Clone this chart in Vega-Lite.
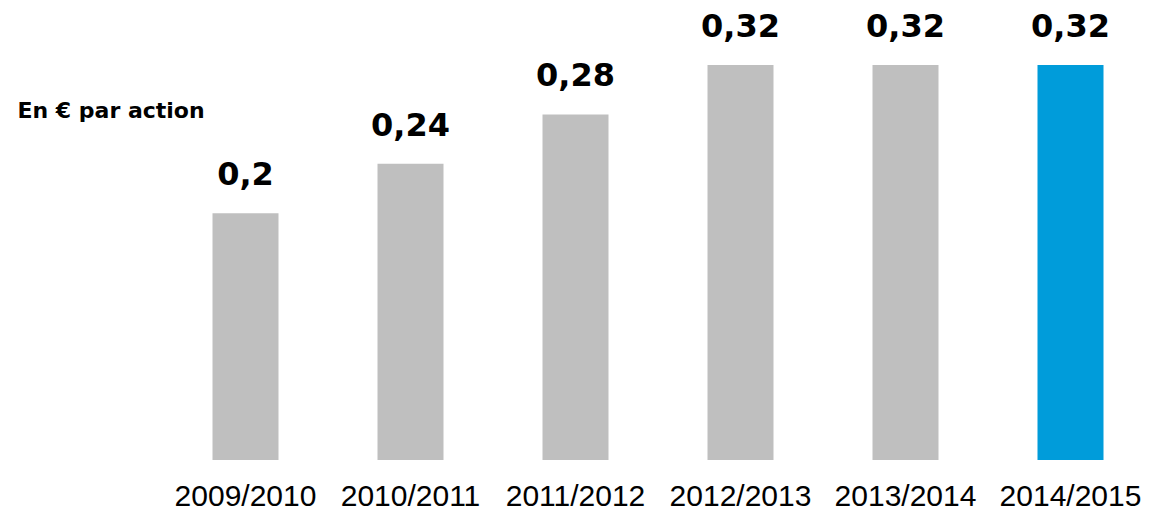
{
  "$schema": "https://vega.github.io/schema/vega-lite/v6.json",
  "width": 990,
  "height": 460,
  "autosize": {"type": "none"},
  "padding": {"left": 163, "top": 0, "right": 0, "bottom": 51},
  "background": "white",
  "config": {"view": {"stroke": null}},
  "data": {
    "values": [
      {"year": "2009/2010", "value": 0.2, "label": "0,2"},
      {"year": "2010/2011", "value": 0.24, "label": "0,24"},
      {"year": "2011/2012", "value": 0.28, "label": "0,28"},
      {"year": "2012/2013", "value": 0.32, "label": "0,32"},
      {"year": "2013/2014", "value": 0.32, "label": "0,32"},
      {"year": "2014/2015", "value": 0.32, "label": "0,32"}
    ]
  },
  "encoding": {
    "x": {
      "field": "year", "type": "nominal", "sort": null,
      "scale": {"paddingInner": 0.6, "paddingOuter": 0.3},
      "axis": {
        "title": null, "labelAngle": 0, "domain": false, "ticks": false, "tickSize": 0,
        "labelFont": "Liberation Sans", "labelFontSize": 30, "labelColor": "#000000",
        "labelBaseline": "alphabetic", "labelPadding": 45
      }
    },
    "y": {
      "field": "value", "type": "quantitative",
      "scale": {"domain": [0, 0.3727], "nice": false},
      "axis": {
        "title": "En € par action", "labels": false, "ticks": false, "domain": false, "grid": false,
        "titleAngle": 0, "titleAlign": "left", "titleBaseline": "alphabetic",
        "titleX": -146, "titleY": 117,
        "titleFont": "DejaVu Sans", "titleFontSize": 22, "titleFontWeight": "bold", "titleColor": "#000000"
      }
    }
  },
  "layer": [
    {
      "mark": {"type": "bar"},
      "encoding": {
        "color": {
          "condition": {"test": "datum.year === '2014/2015'", "value": "#009CDA"},
          "value": "#BFBFBF"
        }
      }
    },
    {
      "mark": {"type": "text", "baseline": "alphabetic", "dy": -28, "font": "DejaVu Sans", "fontWeight": "bold", "fontSize": 32, "color": "#000000"},
      "encoding": {"text": {"field": "label"}}
    }
  ]
}
